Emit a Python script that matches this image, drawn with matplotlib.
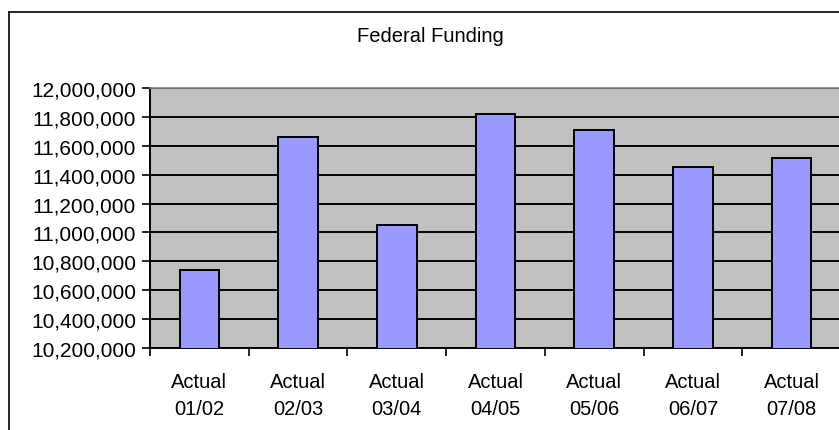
import matplotlib
matplotlib.use("Agg")
import matplotlib.pyplot as plt
from matplotlib.lines import Line2D
from matplotlib.ticker import FuncFormatter, MultipleLocator
import numpy as np

categories = ["Actual\n01/02", "Actual\n02/03", "Actual\n03/04", "Actual\n04/05",
              "Actual\n05/06", "Actual\n06/07", "Actual\n07/08"]
values = [10740000, 11662000, 11053000, 11818000, 11707000, 11453000, 11518000]
title = "Federal Funding"

plt.rcParams['font.family'] = ['Liberation Sans', 'DejaVu Sans']

W, H = 839, 431
fig = plt.figure(figsize=(W / 100, H / 100), dpi=100)
fig.patch.set_facecolor("white")

# chart area border (cropped on right and bottom)
bx, by = 9, 13
fig.add_artist(Line2D([bx / W, bx / W], [0, 1 - by / H], color="black", lw=1.2, transform=fig.transFigure))
fig.add_artist(Line2D([bx / W, 1.0], [1 - by / H, 1 - by / H], color="black", lw=1.2, transform=fig.transFigure))

left, right, top, bottom = 150, 841, 89, 349
ax = fig.add_axes([left / W, 1 - bottom / H, (right - left) / W, (bottom - top) / H])
ax.set_facecolor("#C0C0C0")

x = np.arange(len(categories))
ax.bar(x, values, width=0.4, color="#9999FF", edgecolor="black", linewidth=1.4, zorder=3)

ax.set_ylim(10200000, 12000000)
ax.set_xlim(-0.5, len(categories) - 0.5)
ax.yaxis.set_major_locator(MultipleLocator(200000))
ax.yaxis.set_major_formatter(FuncFormatter(lambda v, p: f"{int(round(v)):,}"))
ax.grid(axis="y", color="black", lw=1.4, zorder=1)

ax.set_xticks(x)
ax.set_xticklabels(categories, fontsize=14.5, linespacing=1.55)
ax.set_xticks(np.arange(-0.5, len(categories)), minor=True)
ax.tick_params(axis="x", which="major", length=0, pad=17)
ax.tick_params(axis="x", which="minor", length=6, width=1.2, direction="out", color="black")
ax.tick_params(axis="y", length=6, width=1.2, labelsize=15, pad=4, direction="out")

for s in ["left", "bottom"]:
    ax.spines[s].set_color("black")
    ax.spines[s].set_linewidth(1.4)
ax.spines["top"].set_color("#808080")
ax.spines["top"].set_linewidth(1.2)
ax.spines["right"].set_visible(False)

fig.text(430 / W, 1 - 42.5 / H, title, ha="center", va="baseline", fontsize=14.5)

fig.savefig("out.png", dpi=100)
